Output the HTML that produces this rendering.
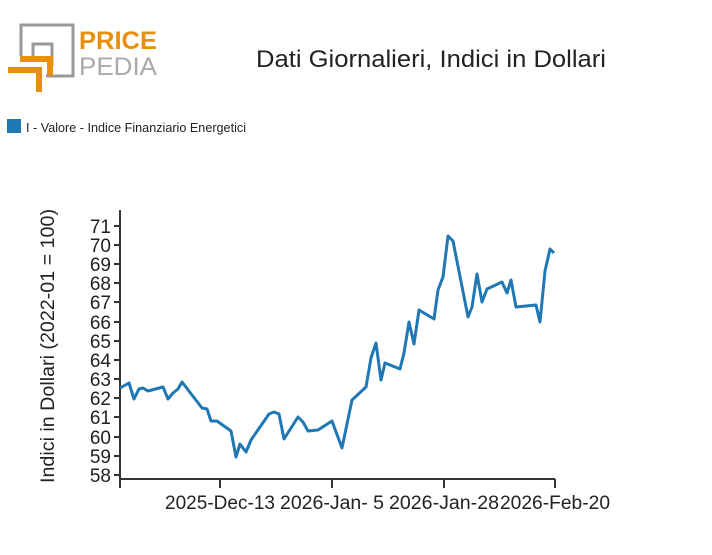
<!DOCTYPE html>
<html><head><style>body{margin:0;background:#fff}svg{display:block}</style></head><body>
<svg width="712" height="555" xmlns="http://www.w3.org/2000/svg" font-family="Liberation Sans, sans-serif">
<rect width="712" height="555" fill="#fff"/>
<g fill="none">
<path d="M21 56V25H73V76H46" stroke="#999" stroke-width="3"/>
<path d="M33 60V44H52V66" stroke="#999" stroke-width="3"/>
<path d="M20 59H50V76" stroke="#e8900c" stroke-width="6"/>
<path d="M8 70H39V92" stroke="#e8900c" stroke-width="6"/>
</g>
<text x="79" y="49" font-size="25" font-weight="bold" fill="#e8900c" textLength="78" lengthAdjust="spacingAndGlyphs">PRICE</text>
<text x="79" y="75" font-size="25" fill="#aaa" textLength="78" lengthAdjust="spacingAndGlyphs">PEDIA</text>
<text x="431" y="67" font-size="24" text-anchor="middle" fill="#222" textLength="350" lengthAdjust="spacingAndGlyphs">Dati Giornalieri, Indici in Dollari</text>
<rect x="7" y="119" width="14" height="14" fill="#1f77b4"/>
<text x="26" y="132" font-size="13" fill="#222" textLength="220" lengthAdjust="spacingAndGlyphs">I - Valore - Indice Finanziario Energetici</text>
<g stroke="#333" stroke-width="2" fill="none">
<path d="M120 210V479H555"/>
<path d="M120 479v9M220 479v9M332 479v9M444 479v9M555 479v9"/>
<path d="M114 226h6M114 245h6M114 264h6M114 283h6M114 302h6M114 322h6M114 341h6M114 360h6M114 379h6M114 398h6M114 417h6M114 437h6M114 456h6M114 475h6"/>
</g>
<g font-size="19" fill="#222" text-anchor="end">
<text x="111" y="233">71</text><text x="111" y="252">70</text><text x="111" y="271">69</text><text x="111" y="290">68</text><text x="111" y="309">67</text><text x="111" y="329">66</text><text x="111" y="348">65</text><text x="111" y="367">64</text><text x="111" y="386">63</text><text x="111" y="405">62</text><text x="111" y="424">61</text><text x="111" y="444">60</text><text x="111" y="463">59</text><text x="111" y="482">58</text>
</g>
<g font-size="19" fill="#222" text-anchor="middle">
<text x="220" y="509" textLength="110" lengthAdjust="spacingAndGlyphs">2025-Dec-13</text>
<text x="332" y="509" textLength="104" lengthAdjust="spacingAndGlyphs">2026-Jan- 5</text>
<text x="444" y="509" textLength="110" lengthAdjust="spacingAndGlyphs">2026-Jan-28</text>
<text x="555" y="509" textLength="110" lengthAdjust="spacingAndGlyphs">2026-Feb-20</text>
</g>
<text transform="translate(54,346) rotate(-90)" font-size="19" fill="#222" text-anchor="middle" textLength="274" lengthAdjust="spacingAndGlyphs">Indici in Dollari (2022-01 = 100)</text>
<polyline fill="none" stroke="#1f77b4" stroke-width="3" stroke-linejoin="round" points="120,388 129,383 134,399 139,389 143,388 148,391 163,387 168,399 173,393 178,389 182,382 202,408 207,409 211,421 217,421 231,431 236,457 240,444 246,452 251,440 269,414 274,412 279,414 284,439 298,417 303,422 308,431 318,430 332,421 342,448 352,400 366,387 371,358 376,343 381,380 385,363 400,369 404,353 409,322 414,344 419,310 434,319 438,290 443,277 448,236 453,241 468,317 472,307 477,274 482,302 487,289 502,282 507,293 511,280 516,307 536,305 540,322 545,271 550,249 554,253"/>
</svg>
</body></html>
